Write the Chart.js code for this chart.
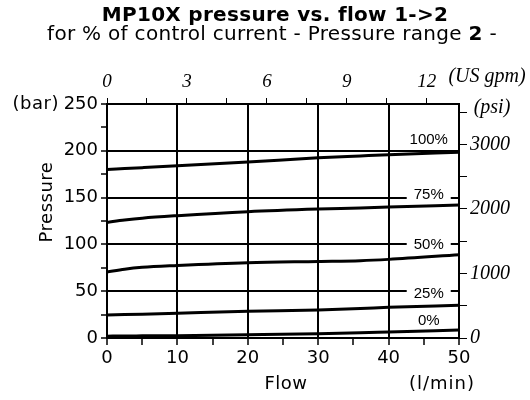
<!DOCTYPE html>
<html>
<head>
<meta charset="utf-8">
<script src="https://cdn.jsdelivr.net/npm/chart.js@4"></script>
<style>
html,body{margin:0;padding:0;background:#fff;}
#wrap{width:530px;height:400px;position:relative;}
</style>
</head>
<body>
<div id="wrap"><canvas id="c" width="530" height="400"></canvas></div>
<script>
// ---- data ----
const flow = [0, 2.5, 5, 10, 20, 30, 36, 40, 50];          // l/min
const p0   = [2, 2.2, 2.3, 2.5, 3.5, 4.6, 5.5, 6.4, 8.5];   // bar
const p25  = [24.5, 25, 25.5, 26.5, 28.5, 30, 31.5, 32.8, 35];
const p50  = [70.5, 73.5, 75.5, 77.5, 80.5, 81.8, 82.6, 84, 89];
const p75  = [123.5, 126, 128, 130.7, 135, 137.8, 139, 140, 142];
const p100 = [180, 181, 182, 184, 188, 192.5, 194.5, 195.8, 198.4];
const seriesNames = ['0%', '25%', '50%', '75%', '100%'];
const labelFlow = 45.7;
const labelPressure = [19.2, 48.4, 100.4, 153.8, 212.6];

const flowTicks = [0, 5, 10, 15, 20, 25, 30, 35, 40, 45, 50];
const gpmTicks = [0, 1.5, 3, 4.5, 6, 7.5, 9, 10.5, 12];
const barTicks = [0, 25, 50, 75, 100, 125, 150, 175, 200, 225, 250];
const psiTicks = [0, 500, 1000, 1500, 2000, 2500, 3000, 3500];

const title = 'MP10X pressure vs. flow 1->2';
const subtitleParts = [['for % of control current - Pressure range ', false], ['2', true], [' -', false]];

const LPM_PER_GPM = 3.78541;
const PSI_PER_BAR = 14.5038;

const allSeries = [p0, p25, p50, p75, p100];
const datasets = allSeries.map((arr, i) => ({
  label: seriesNames[i],
  data: flow.map((f, j) => ({x: f, y: arr[j]})),
  borderColor: '#000',
  borderWidth: 3,
  pointRadius: 0,
  fill: false,
  cubicInterpolationMode: 'monotone',
  xAxisID: 'x',
  yAxisID: 'y'
}));

const SANS = '"DejaVu Sans", Verdana, sans-serif';
const SERIF = '"Liberation Serif", "Times New Roman", serif';
const BLACK = '#000';
const NONE = 'rgba(0,0,0,0)';

function setTicks(list) { return s => { s.ticks = list.map(v => ({value: v})); }; }
function isMult(v, m) { return Math.abs(v / m - Math.round(v / m)) < 1e-6; }

const textPlugin = {
  id: 'texts',
  afterDatasetsDraw(chart) {
    const ctx = chart.ctx;
    const xs = chart.scales.x, ys = chart.scales.y;
    ctx.save();
    ctx.font = '15px "Liberation Sans", Arial, sans-serif';
    ctx.textAlign = 'center';
    ctx.textBaseline = 'middle';
    seriesNames.forEach((n, i) => {
      const px = xs.getPixelForValue(labelFlow);
      const py = ys.getPixelForValue(labelPressure[i]);
      const w = ctx.measureText(n).width + 14;
      ctx.fillStyle = '#fff';
      ctx.fillRect(px - w / 2, py - 8, w, 16);
      ctx.fillStyle = BLACK;
      ctx.fillText(n, px, py + 1);
    });
    ctx.restore();
  },
  afterDraw(chart) {
    const ctx = chart.ctx;
    const a = chart.chartArea;
    ctx.save();
    ctx.fillStyle = BLACK;
    ctx.textBaseline = 'middle';
    // title
    ctx.letterSpacing = '0.3px';
    ctx.font = 'bold 20px ' + SANS;
    ctx.textAlign = 'center';
    ctx.fillText(title, 275, 16);
    // subtitle with bold part
    let total = 0;
    const fonts = subtitleParts.map(p => (p[1] ? 'bold ' : '') + '20px ' + SANS);
    subtitleParts.forEach((p, i) => { ctx.font = fonts[i]; total += ctx.measureText(p[0]).width; });
    let x = 272 - total / 2;
    ctx.textAlign = 'left';
    subtitleParts.forEach((p, i) => { ctx.font = fonts[i]; ctx.fillText(p[0], x, 35); x += ctx.measureText(p[0]).width; });
    // unit labels
    ctx.letterSpacing = '0.5px';
    ctx.font = '18px ' + SANS;
    ctx.textAlign = 'right';
    ctx.fillText('(bar)', 59, a.top);
    ctx.textAlign = 'center';
    ctx.fillText('Flow', (a.left + a.right) / 2 + 3, 384);
    ctx.letterSpacing = '1px';
    ctx.fillText('(l/min)', 442, 384);
    ctx.letterSpacing = '0px';
    ctx.font = 'italic 20px ' + SERIF;
    ctx.fillText('(US gpm)', 487, 77);
    ctx.fillText('(psi)', 492, 108);
    // Pressure rotated
    ctx.letterSpacing = '0.5px';
    ctx.font = '18px ' + SANS;
    ctx.translate(47, 202);
    ctx.rotate(-Math.PI / 2);
    ctx.fillText('Pressure', 0, 0);
    ctx.restore();
  }
};

new Chart(document.getElementById('c'), {
  type: 'line',
  data: {datasets},
  plugins: [textPlugin],
  options: {
    responsive: false,
    animation: false,
    events: [],
    layout: {padding: 0},
    plugins: {legend: {display: false}, title: {display: false}, tooltip: {enabled: false}},
    scales: {
      x: {
        type: 'linear', position: 'bottom', min: 0, max: 50,
        afterBuildTicks: setTicks(flowTicks),
        afterFit: s => { s.height = 62; },
        border: {display: true, color: BLACK, width: 2},
        grid: {
          color: c => (c.tick && isMult(c.tick.value, 10) && c.tick.value > 0 && c.tick.value < 50) ? BLACK : NONE,
          tickColor: BLACK, lineWidth: 2, tickWidth: 1.5, tickLength: 7
        },
        ticks: {
          color: BLACK, font: {family: SANS, size: 18}, padding: 3, maxRotation: 0, autoSkip: false,
          callback: v => isMult(v, 10) ? String(v) : ''
        }
      },
      x2: {
        type: 'linear', position: 'top', min: 0, max: 50 / LPM_PER_GPM,
        afterBuildTicks: setTicks(gpmTicks),
        afterFit: s => { s.height = 104; },
        border: {display: true, color: BLACK, width: 2},
        grid: {drawOnChartArea: false, color: BLACK, tickColor: BLACK, lineWidth: 1, tickLength: 6},
        ticks: {
          color: BLACK, font: {family: SERIF, size: 19, style: 'italic'}, padding: 5, maxRotation: 0, autoSkip: false,
          callback: v => isMult(v, 3) ? String(v) : ''
        }
      },
      y: {
        type: 'linear', position: 'left', min: 0, max: 250,
        afterBuildTicks: setTicks(barTicks),
        afterFit: s => { s.width = 107; },
        border: {display: true, color: BLACK, width: 2},
        grid: {
          color: c => (c.tick && isMult(c.tick.value, 50) && c.tick.value > 0 && c.tick.value < 250) ? BLACK : NONE,
          tickColor: BLACK, lineWidth: 2, tickWidth: 1.5, tickLength: 6
        },
        ticks: {
          color: BLACK, font: {family: SANS, size: 18}, padding: 3, autoSkip: false,
          callback: v => isMult(v, 50) ? String(v) : ''
        }
      },
      y2: {
        type: 'linear', position: 'right', min: 0, max: 250 * PSI_PER_BAR,
        afterBuildTicks: setTicks(psiTicks),
        afterFit: s => { s.width = 71; },
        border: {display: true, color: BLACK, width: 2},
        grid: {drawOnChartArea: false, color: BLACK, tickColor: BLACK, lineWidth: 1, tickLength: 8},
        ticks: {
          color: BLACK, font: {family: SERIF, size: 20, style: 'italic'}, padding: 3, autoSkip: false,
          callback: v => isMult(v, 1000) ? String(v) : ''
        }
      }
    }
  }
});
</script>
</body>
</html>
